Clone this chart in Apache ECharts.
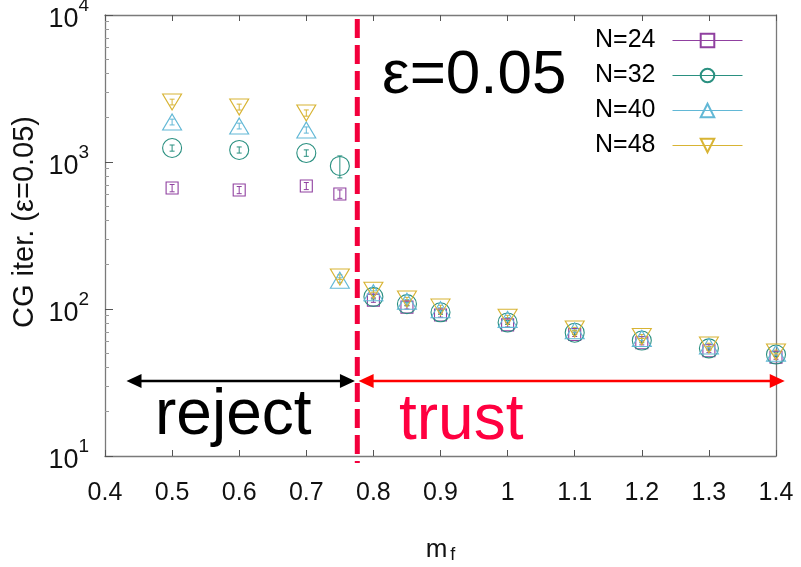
<!DOCTYPE html>
<html>
<head>
<meta charset="utf-8">
<script src="https://cdn.jsdelivr.net/npm/echarts@6/dist/echarts.min.js"></script>
<style>
  html, body { margin: 0; padding: 0; background: #fff; }
  #chart { width: 801px; height: 567px; }
</style>
</head>
<body>
<div id="chart"></div>
<script>
// fermion mass values on the x axis
const mf = [0.5, 0.6, 0.7, 0.75, 0.8, 0.85, 0.9, 1.0, 1.1, 1.2, 1.3, 1.4];

// CG iteration counts (epsilon = 0.05) for each lattice size
const cgN24 = [665, 645, 687, 606, 115, 103, 91, 78, 67, 59, 52, 47];
const cgN32 = [1245, 1208, 1151, 940, 121, 108, 95, 81, 69, 61, 54, 49];
const cgN40 = [1872, 1758, 1652, 157, 129, 113, 99, 85, 71, 63, 56, 50];
const cgN48 = [2560, 2366, 2155, 165, 134, 117, 103, 88, 73, 65, 57, 51];

// statistical errors
const errN24 = [38, 36, 38, 40, 4, 3, 3, 2.5, 2, 2, 1.5, 1.5];
const errN32 = [60, 58, 58, 160, 4, 3, 3, 2.5, 2, 2, 1.5, 1.5];
const errN40 = [85, 80, 80, 6, 4, 3, 3, 2.5, 2, 2, 1.5, 1.5];
const errN48 = [115, 110, 105, 6, 4, 3, 3, 2.5, 2, 2, 1.5, 1.5];

const seriesNames = ['N=24', 'N=32', 'N=40', 'N=48'];
const xTicks = [0.4, 0.5, 0.6, 0.7, 0.8, 0.9, 1, 1.1, 1.2, 1.3, 1.4];
const yMajorTicks = [10, 100, 1000, 10000];
const yTickExponents = ['1', '2', '3', '4'];
const yMinorTicks = [20, 30, 40, 50, 60, 70, 80, 90,
                     200, 300, 400, 500, 600, 700, 800, 900,
                     2000, 3000, 4000, 5000, 6000, 7000, 8000, 9000];

// reject / trust boundary and arrow height
const cutMf = 0.776;
const arrowLevel = 32.4;

const colors = ['#9040a0', '#2a9080', '#62b8d6', '#d8b434'];
const symbols = [
  { symbol: 'rect', size: 12, rotate: 0 },
  { symbol: 'circle', size: 19, rotate: 0 },
  { symbol: 'triangle', size: [19, 16], rotate: 0 },
  { symbol: 'triangle', size: [19, 16], rotate: 180 }
];
const values = [cgN24, cgN32, cgN40, cgN48];
const errors = [errN24, errN32, errN40, errN48];

const tickFont = '"Liberation Sans Narrow", "Liberation Sans", Arial, sans-serif';
const textFont = '"Liberation Sans", Arial, sans-serif';

const chart = echarts.init(document.getElementById('chart'), null, { renderer: 'canvas' });

function pointSeries(i) {
  const c = colors[i];
  return {
    type: 'line',
    name: seriesNames[i],
    data: mf.map((x, k) => [x, values[i][k]]),
    xAxisIndex: 0,
    yAxisIndex: 0,
    color: c,
    symbol: symbols[i].symbol,
    symbolSize: symbols[i].size,
    symbolRotate: symbols[i].rotate,
    showAllSymbol: true,
    itemStyle: { color: 'rgba(0,0,0,0)', borderColor: c, borderWidth: 1.1 },
    lineStyle: { color: c, opacity: 0 },
    emphasis: { disabled: true },
    animation: false,
    z: 4
  };
}

function errorSeries(i) {
  const c = colors[i];
  return {
    type: 'custom',
    name: seriesNames[i] + ' err',
    xAxisIndex: 0,
    yAxisIndex: 0,
    silent: true,
    animation: false,
    data: mf.map((x, k) => [x, values[i][k] - errors[i][k], values[i][k] + errors[i][k]]),
    encode: { x: 0, y: [1, 2] },
    renderItem(params, api) {
      const lo = api.coord([api.value(0), api.value(1)]);
      const hi = api.coord([api.value(0), api.value(2)]);
      const w = 2.5;
      const st = { stroke: c, lineWidth: 1 };
      return {
        type: 'group',
        children: [
          { type: 'line', shape: { x1: lo[0], y1: lo[1], x2: hi[0], y2: hi[1] }, style: st },
          { type: 'line', shape: { x1: lo[0] - w, y1: lo[1], x2: lo[0] + w, y2: lo[1] }, style: st },
          { type: 'line', shape: { x1: hi[0] - w, y1: hi[1], x2: hi[0] + w, y2: hi[1] }, style: st }
        ]
      };
    },
    z: 3
  };
}

const frameLine = { show: true, onZero: false, lineStyle: { color: '#7a7a7a', width: 1.3 } };

const option = {
  backgroundColor: '#ffffff',
  animation: false,
  grid: { left: 105, right: 25, top: 15, bottom: 111, containLabel: false, outerBoundsMode: 'none' },
  xAxis: [
    {
      type: 'value', position: 'bottom', min: 0.4, max: 1.4, interval: 0.1,
      axisLine: frameLine,
      axisTick: { show: true, inside: true, length: 6, lineStyle: { color: '#555', width: 1 } },
      axisLabel: {
        margin: 25, fontSize: 25, color: '#111', fontFamily: tickFont,
        customValues: xTicks
      },
      splitLine: { show: false },
      name: '{m|m}{f|f}',
      nameLocation: 'middle',
      nameGap: 80,
      nameTextStyle: {
        rich: {
          m: { fontSize: 26, fontFamily: tickFont, color: '#111' },
          f: { fontSize: 18, fontFamily: tickFont, color: '#111', padding: [10, 0, 0, 3] }
        }
      }
    },
    {
      type: 'value', position: 'top', min: 0.4, max: 1.4, interval: 0.1,
      axisLine: frameLine,
      axisTick: { show: true, inside: true, length: 6, lineStyle: { color: '#555', width: 1 } },
      axisLabel: { show: false },
      splitLine: { show: false }
    }
  ],
  yAxis: [
    {
      type: 'log', logBase: 10, min: 10, max: 10000, position: 'left',
      axisLine: frameLine,
      axisTick: { show: true, inside: true, length: 8, lineStyle: { color: '#555', width: 1 } },
      minorTick: { show: false },
      axisLabel: {
        margin: 16,
        customValues: yMajorTicks,
        formatter: (v) => '{b|10}{s|' + yTickExponents[yMajorTicks.indexOf(Math.round(v))] + '}',
        rich: {
          b: { fontSize: 27, fontFamily: tickFont, color: '#111', padding: [10, 0, 0, 0] },
          s: { fontSize: 19, fontFamily: tickFont, color: '#111', padding: [0, 0, 18, 0] }
        }
      },
      splitLine: { show: false }
    },
    {
      type: 'log', logBase: 10, min: 10, max: 10000, position: 'left',
      axisLine: { show: false },
      axisTick: { show: true, inside: true, length: 4, customValues: yMinorTicks, lineStyle: { color: '#999', width: 1 } },
      axisLabel: { show: false },
      splitLine: { show: false }
    },
    {
      type: 'log', logBase: 10, min: 10, max: 10000, position: 'right',
      axisLine: frameLine,
      axisTick: { show: false },
      axisLabel: { show: false },
      splitLine: { show: false }
    }
  ],
  legend: {
    data: seriesNames,
    orient: 'vertical',
    right: 53,
    top: 23,
    align: 'right',
    itemWidth: 70,
    itemHeight: 17,
    itemGap: 10,
    selectedMode: false,
    textStyle: { fontSize: 25, lineHeight: 25, fontFamily: textFont, color: '#000', padding: [0, 12, 0, 0] },
    lineStyle: { opacity: 1, width: 1 }
  },
  series: [0, 1, 2, 3].map(errorSeries).concat([0, 1, 2, 3].map(pointSeries))
};

chart.setOption(option);

// annotations: axis title, boundary line, arrows and region labels
function px(x, y) {
  return chart.convertToPixel({ xAxisIndex: 0, yAxisIndex: 0 }, [x, y]);
}

function doubleArrow(xFrom, xTo, color, width, headLen, headHalf) {
  const a = px(xFrom, arrowLevel);
  const b = px(xTo, arrowLevel);
  const y = a[1];
  return [
    { type: 'line', silent: true, z: 10,
      shape: { x1: a[0] + headLen - 2, y1: y, x2: b[0] - headLen + 2, y2: y },
      style: { stroke: color, lineWidth: width } },
    { type: 'polygon', silent: true, z: 10,
      shape: { points: [[a[0], y], [a[0] + headLen, y - headHalf], [a[0] + headLen, y + headHalf]] },
      style: { fill: color } },
    { type: 'polygon', silent: true, z: 10,
      shape: { points: [[b[0], y], [b[0] - headLen, y - headHalf], [b[0] - headLen, y + headHalf]] },
      style: { fill: color } }
  ];
}

const cutTop = px(cutMf, 10000);
const cutBottom = px(cutMf, 10);

const graphics = [
  { type: 'text', silent: true, z: 11, x: 25, y: 222, rotation: Math.PI / 2,
    style: { text: 'CG iter. (ε=0.05)', font: '29px ' + textFont, fill: '#111',
             align: 'center', verticalAlign: 'middle' } },
  { type: 'line', silent: true, z: 9,
    shape: { x1: cutTop[0], y1: cutTop[1] + 4, x2: cutBottom[0], y2: cutBottom[1] + 7 },
    style: { stroke: '#f3003c', lineWidth: 5, lineDash: [19, 7] } },
  ...doubleArrow(0.432, 0.7725, '#000000', 2.6, 15, 7),
  ...doubleArrow(0.778, 1.413, '#ff0000', 2.6, 15, 7),
  { type: 'text', silent: true, z: 11, left: 382, top: 45,
    style: { text: 'ε=0.05', font: '62px ' + textFont, fill: '#000' } },
  { type: 'text', silent: true, z: 11, left: 155, top: 384,
    style: { text: 'reject', font: '64px ' + textFont, fill: '#000' } },
  { type: 'text', silent: true, z: 11, left: 399, top: 389,
    style: { text: 'trust', font: '64px ' + textFont, fill: '#ff0040' } }
];

chart.setOption({ graphic: graphics });
</script>
</body>
</html>
